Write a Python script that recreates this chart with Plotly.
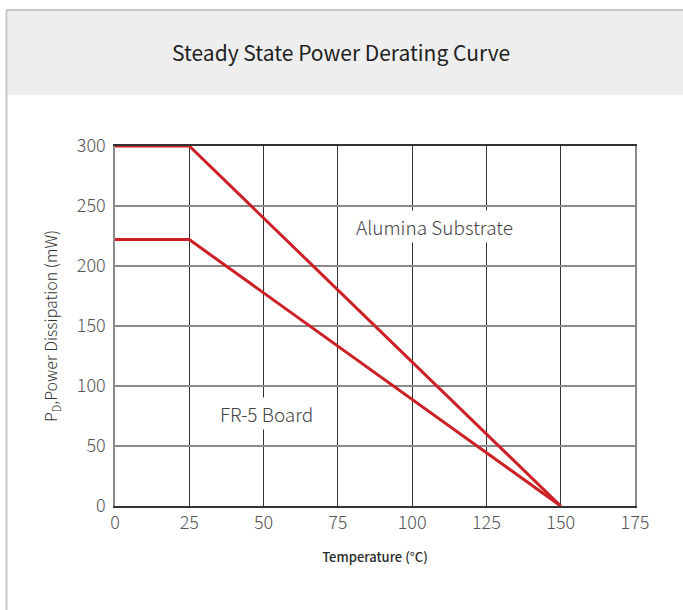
import plotly.graph_objects as go

# Data
temps = [0, 25, 150]
alumina_mw = [300, 300, 0]
fr5_mw = [222, 222, 0]
x_ticks = [0, 25, 50, 75, 100, 125, 150, 175]
y_ticks = [0, 50, 100, 150, 200, 250, 300]
title_text = "Steady State Power Derating Curve"
x_title = "Temperature (°C)"
y_title = "P<sub>D</sub>,Power Dissipation (mW)"
label_alumina = ("Alumina Substrate", 107.4, 233)
label_fr5 = ("FR-5 Board", 51, 77.5)

FONT = "Noto Sans CJK SC"
RED = "#cc2026"

fig = go.Figure()
fig.add_trace(go.Scatter(x=temps, y=alumina_mw, mode="lines",
                         line=dict(color=RED, width=3), name="Alumina Substrate",
                         hoverinfo="x+y"))
fig.add_trace(go.Scatter(x=temps, y=fr5_mw, mode="lines",
                         line=dict(color=RED, width=3), name="FR-5 Board",
                         hoverinfo="x+y"))

L, R, T, B = 115, 48, 146, 104
W, H = 683, 610
pw, ph = W - L - R, H - T - B

def px_x(p):
    return (p - L) / pw

def px_y(p):
    return (H - B - p) / ph

shapes = [
    # header band
    dict(type="rect", xref="paper", yref="paper",
         x0=px_x(7), x1=px_x(700), y0=px_y(95), y1=px_y(10),
         fillcolor="#eeeeee", line=dict(width=0), layer="below"),
    # top border
    dict(type="line", xref="paper", yref="paper",
         x0=px_x(6), x1=px_x(700), y0=px_y(10), y1=px_y(10),
         line=dict(color="#c8c8c8", width=2)),
    # left border
    dict(type="line", xref="paper", yref="paper",
         x0=px_x(6.5), x1=px_x(6.5), y0=px_y(10), y1=px_y(620),
         line=dict(color="#c8c8c8", width=2)),
]

annotations = [
    dict(text=title_text, xref="paper", yref="paper", x=px_x(341), y=px_y(52),
         showarrow=False, font=dict(family=FONT, size=21, color="#1e1e1e", weight=400),
         xanchor="center", yanchor="middle"),
    dict(text=label_alumina[0], x=label_alumina[1], y=label_alumina[2], showarrow=False,
         font=dict(family=FONT, size=19, color="#444444", weight=300),
         bgcolor="white", borderpad=2),
    dict(text=label_fr5[0], x=label_fr5[1], y=label_fr5[2], showarrow=False,
         font=dict(family=FONT, size=19, color="#444444", weight=300),
         bgcolor="white", borderpad=2),
]

fig.update_layout(
    width=W, height=H,
    margin=dict(l=L, r=R, t=T, b=B),
    paper_bgcolor="white", plot_bgcolor="white",
    showlegend=False,
    shapes=shapes,
    annotations=annotations,
    font=dict(family=FONT, color="#444444"),
)
fig.update_xaxes(
    range=[0, 175], tickvals=x_ticks, ticktext=[str(v) for v in x_ticks],
    showgrid=True, gridcolor="#333333", gridwidth=1,
    showline=True, linecolor="#333333", linewidth=1.5, mirror=True,
    zeroline=False, ticks="",
    tickfont=dict(family=FONT, size=18, color="#555555", weight=300),
    title=dict(text=x_title, font=dict(family=FONT, size=13, color="#2a2a2a", weight=500),
               standoff=20),
)
fig.update_yaxes(
    range=[0, 300], tickvals=y_ticks, ticktext=[str(v) for v in y_ticks],
    showgrid=True, gridcolor="#8a8a8a", gridwidth=1.5,
    showline=True, linecolor="#8a8a8a", linewidth=1.5, mirror=True,
    zeroline=False, ticks="", ticklabelstandoff=4,
    tickfont=dict(family=FONT, size=18, color="#555555", weight=300),
    title=dict(text=y_title, font=dict(family=FONT, size=16, color="#333333", weight=300),
               standoff=15),
)

fig.write_html("out.html", config={"displayModeBar": False},
               post_script="document.body.style.margin='0';")
